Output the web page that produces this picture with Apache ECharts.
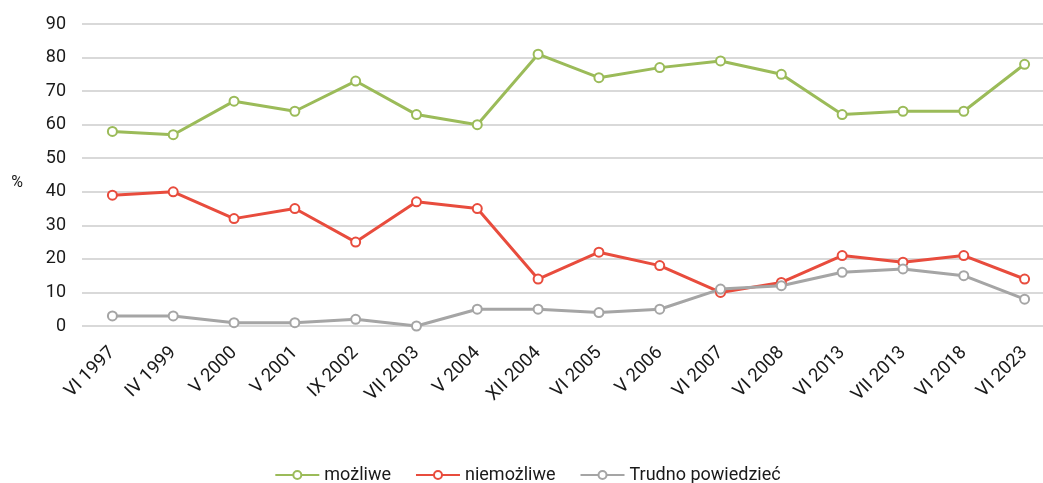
<!DOCTYPE html>
<html>
<head>
<meta charset="utf-8">
<script src="https://cdn.jsdelivr.net/npm/echarts@6/dist/echarts.min.js"></script>
<style>
html,body{margin:0;padding:0;background:#fff;overflow:hidden;}
#con{width:1055px;height:483px;}
</style>
</head>
<body>
<div id="con"></div>
<script>
var dates = ['VI 1997', 'IV 1999', 'V 2000', 'V 2001', 'IX 2002', 'VII 2003', 'V 2004', 'XII 2004',
	'VI 2005', 'V 2006', 'VI 2007', 'VI 2008', 'VI 2013', 'VII 2013', 'VI 2018', 'VI 2023'];
var mozliwe = [58, 57, 67, 64, 73, 63, 60, 81, 74, 77, 79, 75, 63, 64, 64, 78];
var niemozliwe = [39, 40, 32, 35, 25, 37, 35, 14, 22, 18, 10, 13, 21, 19, 21, 14];
var trudno = [3, 3, 1, 1, 2, 0, 5, 5, 4, 5, 11, 12, 16, 17, 15, 8];
var yTicks = [0, 10, 20, 30, 40, 50, 60, 70, 80, 90];

// kontener trochę szerszy niż okno - ostatnia kategoria wychodzi poza kadr jak w oryginale
var myChart = echarts.init(document.getElementById('con'));

function line(name, data, color) {
	return {
		name: name,
		type: 'line',
		data: data,
		symbol: 'emptyCircle',
		symbolSize: 9,
		lineStyle: {width: 3, color: color},
		itemStyle: {color: color, borderWidth: 2},
		z: 3
	};
}

var option = {
	animation: false,
	textStyle: {fontFamily: 'Roboto'},
	grid: {left: 82, top: 24, right: 0, bottom: 157},
	xAxis: {
		type: 'category',
		data: dates,
		axisLine: {show: false},
		axisTick: {show: false},
		axisLabel: {
			interval: 0,
			rotate: 45,
			margin: 24,
			fontSize: 18.5,
			color: '#1a1a1a'
		}
	},
	yAxis: {
		type: 'value',
		min: yTicks[0],
		max: yTicks[yTicks.length - 1],
		interval: 10,
		name: '%',
		nameLocation: 'middle',
		nameRotate: 0,
		nameGap: 59,
		nameTextStyle: {fontSize: 16, color: '#1a1a1a', verticalAlign: 'top', padding: [0, 0, 0, 0]},
		axisLabel: {fontSize: 18, color: '#1a1a1a', margin: 16},
		splitLine: {lineStyle: {color: '#d9d9d9', width: 2}}
	},
	legend: {
		top: 461,
		left: 'center',
		itemWidth: 44,
		itemHeight: 10,
		itemGap: 24,
		textStyle: {fontSize: 18, color: '#1a1a1a'},
		data: ['możliwe', 'niemożliwe', 'Trudno powiedzieć']
	},
	series: [
		line('możliwe', mozliwe, '#9bbb59'),
		line('niemożliwe', niemozliwe, '#e84c3d'),
		line('Trudno powiedzieć', trudno, '#a5a5a5')
	]
};

myChart.setOption(option);
</script>
</body>
</html>
